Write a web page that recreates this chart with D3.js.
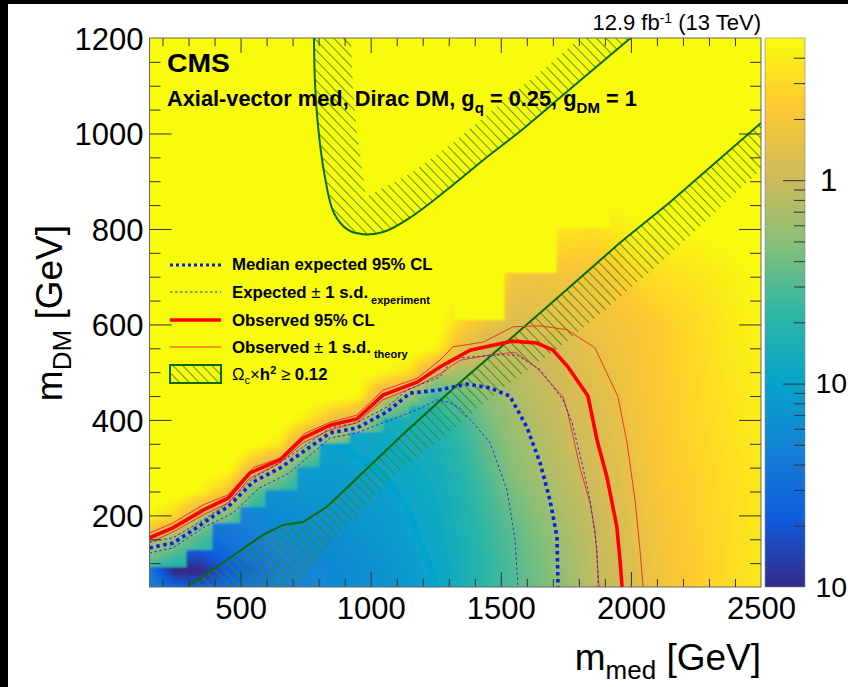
<!DOCTYPE html>
<html><head><meta charset="utf-8">
<script src="https://cdn.jsdelivr.net/npm/d3@7"></script>
<style>html,body{margin:0;padding:0;background:#fff;overflow:hidden}svg{display:block}text{font-family:"Liberation Sans",Arial,sans-serif;fill:#000}</style>
</head><body><svg id="c" width="848" height="687"></svg>
<script>
// ---------- data ----------
const gridX=[150,250,350,450,550,650,750,850,950,1050,1150,1250,1350,1450,1550,1650,1750,1850,1950,2050,2150,2250,2350,2450,2500];
const gridY=[50,100,150,200,250,300,350,400,450,500,550,600,700,800,900,1000];
const muUpper=[
[.2,.2,.2,.2,.2,.2,.15,.15,.15,.15,.12,.1,.15,.22,.3,.42,.58,.85,1.0,1.5,2.0,2.5,2.9,3.4,3.7],
[.3,.2,.2,.2,.2,.2,.15,.15,.15,.15,.12,.105,.15,.22,.31,.43,.6,.87,1.1,1.55,2.05,2.5,2.95,3.45,3.7],
[.95,.53,.27,.18,.17,.15,.15,.15,.15,.15,.13,.115,.16,.23,.33,.46,.65,.9,1.15,1.6,2.1,2.55,3,3.5,3.7],
[4.8,2.8,.82,.43,.17,.15,.15,.15,.15,.15,.14,.12,.17,.25,.37,.52,.72,.95,1.2,1.7,2.2,2.6,3,3.5,3.75],
[6,6,4.5,2.0,.37,.24,.15,.15,.15,.16,.15,.13,.18,.28,.43,.6,.8,1,1.3,1.75,2.3,2.65,3.05,3.55,3.8],
[6,6,6,6,1.5,.7,.24,.18,.16,.16,.16,.14,.2,.32,.5,.68,.88,1.1,1.35,1.85,2.4,2.7,3.1,3.6,3.85],
[6,6,6,6,5.8,3.9,.7,.4,.31,.17,.17,.16,.22,.36,.56,.75,.97,1.15,1.45,1.9,2.45,2.8,3.2,3.7,3.9],
[6,6,6,6,6,6,4,1.7,.95,.3,.2,.18,.26,.42,.62,.82,1.02,1.2,1.5,2,2.5,2.85,3.3,3.8,4],
[6,6,6,6,6,6,6,6,4.8,.95,.6,.25,.36,.52,.72,.9,1.08,1.3,1.6,2.05,2.5,2.9,3.4,3.9,4.2],
[6,6,6,6,6,6,6,6,6,4.8,3.3,.9,.65,.75,.85,.96,1.1,1.4,1.7,2.1,2.55,2.95,3.5,4,4.3],
[6,6,6,6,6,6,6,6,6,6,6,4.6,1.5,.95,.98,1.02,1.2,1.5,1.8,2.15,2.6,3,3.6,4.1,4.5],
[6,6,6,6,6,6,6,6,6,6,6,6,2.6,1.7,1.25,1.3,1.5,1.7,1.9,2.2,2.6,3,3.7,4.3,4.7],
[6,6,6,6,6,6,6,6,6,6,6,6,6,6,1.8,1.7,1.9,1.9,2.4,3,3.3,3.6,4.1,4.7,5],
[6,6,6,6,6,6,6,6,6,6,6,6,6,6,6,5,3.5,3.2,4,4.5,4.8,5,5.3,5.6,6],
[6,6,6,6,6,6,6,6,6,6,6,6,6,6,6,6,6,6,6,6,6,6,6,6,6],
[6,6,6,6,6,6,6,6,6,6,6,6,6,6,6,6,6,6,6,6,6,6,6,6,6]];
const lowX=[150,250,350,450,650,850,1050,1250];
const lowY=[50,85,120,150,200,300,400,500];
const muLow=[
[.05,.025,.022,.03,.05,.055,.07,.1],
[.04,.009,.01,.022,.045,.055,.07,.105],
[.04,.018,.02,.03,.05,.058,.075,.11],
[.05,.03,.03,.035,.055,.06,.08,.115],
[.07,.05,.045,.045,.06,.07,.085,.12],
[.13,.1,.09,.08,.085,.09,.105,.14],
[.2,.17,.15,.13,.12,.11,.13,.18],
[.3,.27,.25,.2,.17,.16,.18,.24]];
// stair between low-mu region and band under the limit
const stairX=[150,294,394,498,594,717,805,920,1050,1150,1250];
const stairY=[92,128,184,218,253,301,352,375,405,430,0];
// stair ceiling of the filled histogram
const ceilX=[150,1324,1516,1716,1916];
const ceilY=[1300,609,708,802,1300];

const obsX=[150,240,356,452,536,651,740,844,947,1047,1178,1266,1382,1543,1639,1701,1758,1835,1870,1908,1946,1958,1966];
const obsY=[153,174,211,236,289,316,362,389,402,452,479,511,546,565,561,546,511,450,358,280,176,107,50];
const obsUpX=[150,240,356,452,548,651,748,844,947,1047,1178,1266,1316,1432,1547,1651,1754,1862,1950,1985,2016,2035,2047];
const obsUpY=[163,184,222,243,300,320,372,395,410,462,487,525,553,563,595,597,589,551,449,353,232,127,50];
const obsDnX=[150,240,356,452,536,651,740,844,947,1047,1178,1266,1343,1459,1555,1639,1739,1758,1804,1843,1862,1870,1878];
const obsDnY=[143,165,201,226,278,310,352,379,394,442,471,496,525,536,542,509,448,414,301,226,169,107,50];
const expX=[150,240,306,413,452,548,651,740,844,947,1063,1151,1266,1370,1459,1535,1600,1651,1689,1716,1720];
const expY=[132,142,165,205,218,270,299,333,373,383,417,456,463,475,467,450,385,310,232,155,50];
const expUpX=[150,240,356,452,548,651,740,844,947,1063,1140,1266,1304,1343,1485,1562,1651,1739,1774,1812,1843,1870,1874];
const expUpY=[144,153,190,226,278,310,343,383,394,427,463,490,519,530,536,536,505,442,394,310,232,127,50];
const expDnX=[150,240,356,471,571,688,844,947,1178,1255,1300,1343,1393,1459,1524,1555,1566];
const expDnY=[121,132,174,205,257,289,362,373,421,442,437,425,394,352,253,148,50];

const relicVOuterX=[782,786,798,824,859,913,972,1051,1155,1293,1432,1589,1762,1999];
const relicVOuterY=[1200,1106,1014,909,833,798,789,794,825,882,944,1011,1091,1200];
const relicVInnerX=[924,932,947,982,1155,1328,1501,1674,1805];
const relicVInnerY=[1200,1091,1001,867,917,986,1064,1139,1200];
const relicDiagX=[294,448,586,663,740,832,947,1113,1332,1535,1708,1958,2150,2500];
const relicDiagY=[50,107,159,180,186,218,278,364,473,569,651,771,856,1022];
const relicDiagLowX=[709,805,901,1017,1113,1266,1497,1728,1958,2139,2292,2446,2500];
const relicDiagLowY=[50,111,174,243,295,358,463,553,657,741,819,898,923];

const xMajor=[500,1000,1500,2000,2500];
const xMinor=[200,300,400,600,700,800,900,1100,1200,1300,1400,1600,1700,1800,1900,2100,2200,2300,2400];
const yMajor=[200,400,600,800,1000,1200];
const yMinor=[100,150,250,300,350,450,500,550,650,700,750,850,900,950,1050,1100,1150];
const zMajor=[1,0.1,0.01];
const zMajorLabels=["1","10","10"];
const zMinor=[4,3,2,.9,.8,.7,.6,.5,.4,.3,.2,.09,.08,.07,.06,.05,.04,.03,.02];
const birdColors=["#352a87","#0f5cdd","#1481d6","#06a4ca","#2eb7a4","#87bf77","#d1bb59","#fec832","#f9fb0e"];

// ---------- scales ----------
const L=149.5,R=761,T=38,B=587;
const x=d3.scaleLinear().domain([150,2500]).range([L,R]);
const y=d3.scaleLinear().domain([50,1200]).range([B,T]);
const z=d3.scaleLog().domain([0.01,5]).range([B,T]);
const zt=d3.scaleLinear().domain(birdColors.map((c,i)=>i/8)).range(birdColors).clamp(true);
const colorOf=m=>zt((B-z(Math.max(m,1e-3)))/(B-T));

const svg=d3.select("#c");
const defs=svg.append("defs");
defs.append("clipPath").attr("id","plot").append("rect").attr("x",L).attr("y",T).attr("width",R-L).attr("height",B-T);
const hp=defs.append("pattern").attr("id","hatch").attr("patternUnits","userSpaceOnUse")
 .attr("width",10).attr("height",7).attr("patternTransform","rotate(46)");
hp.append("line").attr("x1",0).attr("x2",10).attr("y1",3.5).attr("y2",3.5).attr("stroke","#3a8a10").attr("stroke-width",.85);
const bf=defs.append("filter").attr("id","soft").attr("x","-2%").attr("y","-2%").attr("width","104%").attr("height","104%");
bf.append("feGaussianBlur").attr("stdDeviation",1.2);
const grad=defs.append("linearGradient").attr("id","bar").attr("x1",0).attr("x2",0).attr("y1",1).attr("y2",0);
birdColors.forEach((c,i)=>grad.append("stop").attr("offset",i/8).attr("stop-color",c));

// page
svg.append("rect").attr("width",848).attr("height",4).attr("fill","#000");
svg.append("rect").attr("width",8).attr("height",687).attr("fill","#000");

// plot background
svg.append("rect").attr("x",L).attr("y",T).attr("width",R-L).attr("height",B-T).attr("fill","#f9fb0e");

// heat map
function field(nx,ny,m,vx,vy){
  const i=Math.min(Math.max(d3.bisectRight(nx,vx)-1,0),nx.length-2);
  const j=Math.min(Math.max(d3.bisectRight(ny,vy)-1,0),ny.length-2);
  const s=Math.min(Math.max((vx-nx[i])/(nx[i+1]-nx[i]),0),1);
  const t=Math.min(Math.max((vy-ny[j])/(ny[j+1]-ny[j]),0),1);
  const l=v=>Math.log10(v);
  return Math.pow(10,(1-t)*((1-s)*l(m[j][i])+s*l(m[j][i+1]))+t*((1-s)*l(m[j+1][i])+s*l(m[j+1][i+1])));
}
const stepVal=(ex,ey,v)=>ey[Math.max(d3.bisectRight(ex,v)-1,0)];
const pad=6,W=Math.ceil(R-L)+2*pad,H=Math.ceil(B-T)+2*pad;
const cv=document.createElement("canvas");cv.width=W;cv.height=H;
const ctx=cv.getContext("2d"),im=ctx.createImageData(W,H);
for(let py=0;py<H;py++)for(let px=0;px<W;px++){
  const vx=x.invert(L-pad+px+.5),vy=y.invert(T-pad+py+.5);
  if(vy>stepVal(ceilX,ceilY,vx))continue;
  const mu=(vy<stepVal(stairX,stairY,vx))?field(lowX,lowY,muLow,vx,vy):field(gridX,gridY,muUpper,vx,vy);
  const c=d3.rgb(colorOf(mu)),k=(py*W+px)*4;
  im.data[k]=c.r;im.data[k+1]=c.g;im.data[k+2]=c.b;im.data[k+3]=255;
}
ctx.putImageData(im,0,0);
const plot=svg.append("g").attr("clip-path","url(#plot)");
plot.append("g").attr("filter","url(#soft)").append("image")
 .attr("x",L-pad).attr("y",T-pad).attr("width",W).attr("height",H).attr("href",cv.toDataURL());

// relic density bands
const line=d3.line().x(d=>x(d[0])).y(d=>y(d[1]));
const zipP=(a,b)=>d3.zip(a,b);
const poly=(a,b,c,d)=>line(zipP(a,b).concat(zipP(c,d).reverse()))+"Z";
plot.append("path").attr("d",poly(relicVOuterX,relicVOuterY,relicVInnerX,relicVInnerY)).attr("fill","url(#hatch)");
plot.append("path").attr("d",poly(relicDiagX,relicDiagY,relicDiagLowX,relicDiagLowY)).attr("fill","url(#hatch)");
plot.append("path").attr("d",d3.line().x(d=>x(d[0])).y(d=>y(d[1])).curve(d3.curveCatmullRom)(zipP(relicVOuterX,relicVOuterY))).attr("fill","none").attr("stroke","#0a6b0a").attr("stroke-width",2);
plot.append("path").attr("d",line(zipP(relicDiagX,relicDiagY))).attr("fill","none").attr("stroke","#0a6b0a").attr("stroke-width",2);

// limit curves
function lim(a,b,color,w,dash){const p=plot.append("path").attr("d",line(zipP(a,b))).attr("fill","none").attr("stroke",color).attr("stroke-width",w);if(dash)p.attr("stroke-dasharray",dash);}
lim(obsUpX,obsUpY,"#f0352a",1);
lim(obsDnX,obsDnY,"#f0352a",1);
lim(expUpX,expUpY,"#2a2ae8",1,"2.5 2.5");
lim(expDnX,expDnY,"#2a2ae8",1,"2.5 2.5");
lim(expX,expY,"#0b1fe8",3.6,"3.5 3.5");
lim(obsX,obsY,"#ff0000",3.6);

// rich text helper
function rich(parent,tx,ty,anchor,size,weight,parts){
  const t=parent.append("text").attr("x",tx).attr("y",ty).attr("text-anchor",anchor).attr("font-size",size).attr("font-weight",weight);
  let off=0;
  parts.forEach(p=>{const s=t.append("tspan").text(p.t);
    const d=(p.dy||0)-off;off=p.dy||0;
    if(d)s.attr("dy",d);
    if(p.size)s.attr("font-size",p.size);
    if(p.weight)s.attr("font-weight",p.weight);
    if(p.dx)s.attr("dx",p.dx);
  });
  return t;
}

// labels inside the plot
svg.append("text").attr("x",167).attr("y",72).attr("font-size",25).attr("font-weight","bold").attr("textLength",63).attr("lengthAdjust","spacingAndGlyphs").text("CMS");
rich(svg,167,106,"start",21.8,"bold",[{t:"Axial-vector med, Dirac DM, g"},{t:"q",dy:7,size:15},{t:" = 0.25, g"},{t:"DM",dy:7,size:15},{t:" = 1"}]);
rich(svg,761,30,"end",22,"normal",[{t:"12.9 fb"},{t:"-1",dy:-7,size:14},{t:" (13 TeV)"}]);

// legend
const leg=svg.append("g");
const legendLabels=["Median expected 95% CL","Expected ","Observed 95% CL","Observed "];
const ly=[270,298,326,353],ls=[265,292,320,347];
leg.append("line").attr("x1",170).attr("x2",221).attr("y1",ls[0]).attr("y2",ls[0]).attr("stroke","#0b1fe8").attr("stroke-width",3).attr("stroke-dasharray","3 3");
leg.append("line").attr("x1",170).attr("x2",221).attr("y1",ls[1]).attr("y2",ls[1]).attr("stroke","#2a2ae8").attr("stroke-width",1).attr("stroke-dasharray","2.5 2.5");
leg.append("line").attr("x1",170).attr("x2",221).attr("y1",ls[2]).attr("y2",ls[2]).attr("stroke","#ff0000").attr("stroke-width",3.5);
leg.append("line").attr("x1",170).attr("x2",221).attr("y1",ls[3]).attr("y2",ls[3]).attr("stroke","#f0352a").attr("stroke-width",1);
leg.append("rect").attr("x",170).attr("y",365).attr("width",51).attr("height",18).attr("fill","#f9fb0e");
leg.append("rect").attr("x",170).attr("y",365).attr("width",51).attr("height",18).attr("fill","url(#hatch)").attr("stroke","#0a6b0a").attr("stroke-width",2);
rich(leg,232,ly[0],"start",16.8,"bold",[{t:legendLabels[0]}]);
rich(leg,232,ly[1],"start",16.8,"bold",[{t:legendLabels[1]},{t:" ± ",weight:"normal"},{t:"1 s.d."},{t:"  experiment",dy:6,size:11}]);
rich(leg,232,ly[2],"start",16.8,"bold",[{t:legendLabels[2]}]);
rich(leg,232,ly[3],"start",16.8,"bold",[{t:legendLabels[3]},{t:" ± ",weight:"normal"},{t:"1 s.d."},{t:"  theory",dy:5,size:11}]);
rich(leg,232,380,"start",16.8,"bold",[{t:"Ω",weight:"normal"},{t:"c",dy:4,size:11,weight:"normal"},{t:"×",weight:"normal"},{t:"h"},{t:"2",dy:-6,size:11},{t:"  ≥ ",weight:"normal"},{t:"0.12"}]);

// axes
function ticks(axis,tx,ty,vals,len,fmt){
  const g=svg.append("g").attr("transform",`translate(${tx},${ty})`)
   .call(axis.tickValues(vals).tickSize(len).tickSizeOuter(0).tickFormat(fmt||(()=>"")));
  g.select(".domain").remove();
  g.selectAll(".tick line").attr("stroke","#333").attr("stroke-width",1);
  return g;
}
const fx=d3.format("d");
ticks(d3.axisTop(x),0,B,xMinor,8);
ticks(d3.axisTop(x),0,B,xMajor.slice(0,4),15);
ticks(d3.axisBottom(x),0,T,xMinor,8);
ticks(d3.axisBottom(x),0,T,xMajor.slice(0,4),15);
ticks(d3.axisRight(y),L,0,yMinor,11);
ticks(d3.axisRight(y),L,0,yMajor.slice(0,5),22);
ticks(d3.axisLeft(y),R,0,yMinor,11);
ticks(d3.axisLeft(y),R,0,yMajor.slice(0,5),22);
svg.append("rect").attr("x",L).attr("y",T).attr("width",R-L).attr("height",B-T).attr("fill","none").attr("stroke","#666").attr("stroke-width",1);

const xl=svg.append("g").attr("transform",`translate(0,${B})`).call(d3.axisBottom(x).tickValues(xMajor).tickSize(0).tickPadding(10).tickFormat(fx));
xl.select(".domain").remove();
xl.selectAll("text").attr("font-size",31).attr("font-family","Liberation Sans").attr("y",32).attr("dy",0);
const yl=svg.append("g").attr("transform",`translate(${L},0)`).call(d3.axisLeft(y).tickValues(yMajor).tickSize(0).tickPadding(6).tickFormat(fx));
yl.select(".domain").remove();
yl.selectAll("text").attr("font-size",31).attr("font-family","Liberation Sans").attr("dy","0.36em");

// axis titles
rich(svg,761,670,"end",37,"normal",[{t:"m"},{t:"med",dy:9,size:26},{t:" [GeV]"}]);
const yt=svg.append("g").attr("transform","translate(62,225) rotate(-90)");
rich(yt,0,0,"end",37,"normal",[{t:"m"},{t:"DM",dy:9,size:26},{t:" [GeV]"}]);

// colour bar
svg.append("rect").attr("x",765).attr("y",T).attr("width",40).attr("height",B-T).attr("fill","url(#bar)").attr("stroke","#888").attr("stroke-width",.6);
ticks(d3.axisLeft(z),805,0,zMinor,11);
ticks(d3.axisLeft(z),805,0,zMajor.slice(0,2),22);
const zl=svg.append("g").attr("transform","translate(805,0)").call(d3.axisRight(z).tickValues(zMajor).tickSize(0).tickPadding(15).tickFormat((d,i)=>zMajorLabels[i]));
zl.select(".domain").remove();
zl.selectAll("text").attr("font-size",31).attr("font-family","Liberation Sans").attr("dy","0.33em")
  .filter(d=>d<1).attr("font-size",28.5).attr("x",10.5);
</script></body></html>
